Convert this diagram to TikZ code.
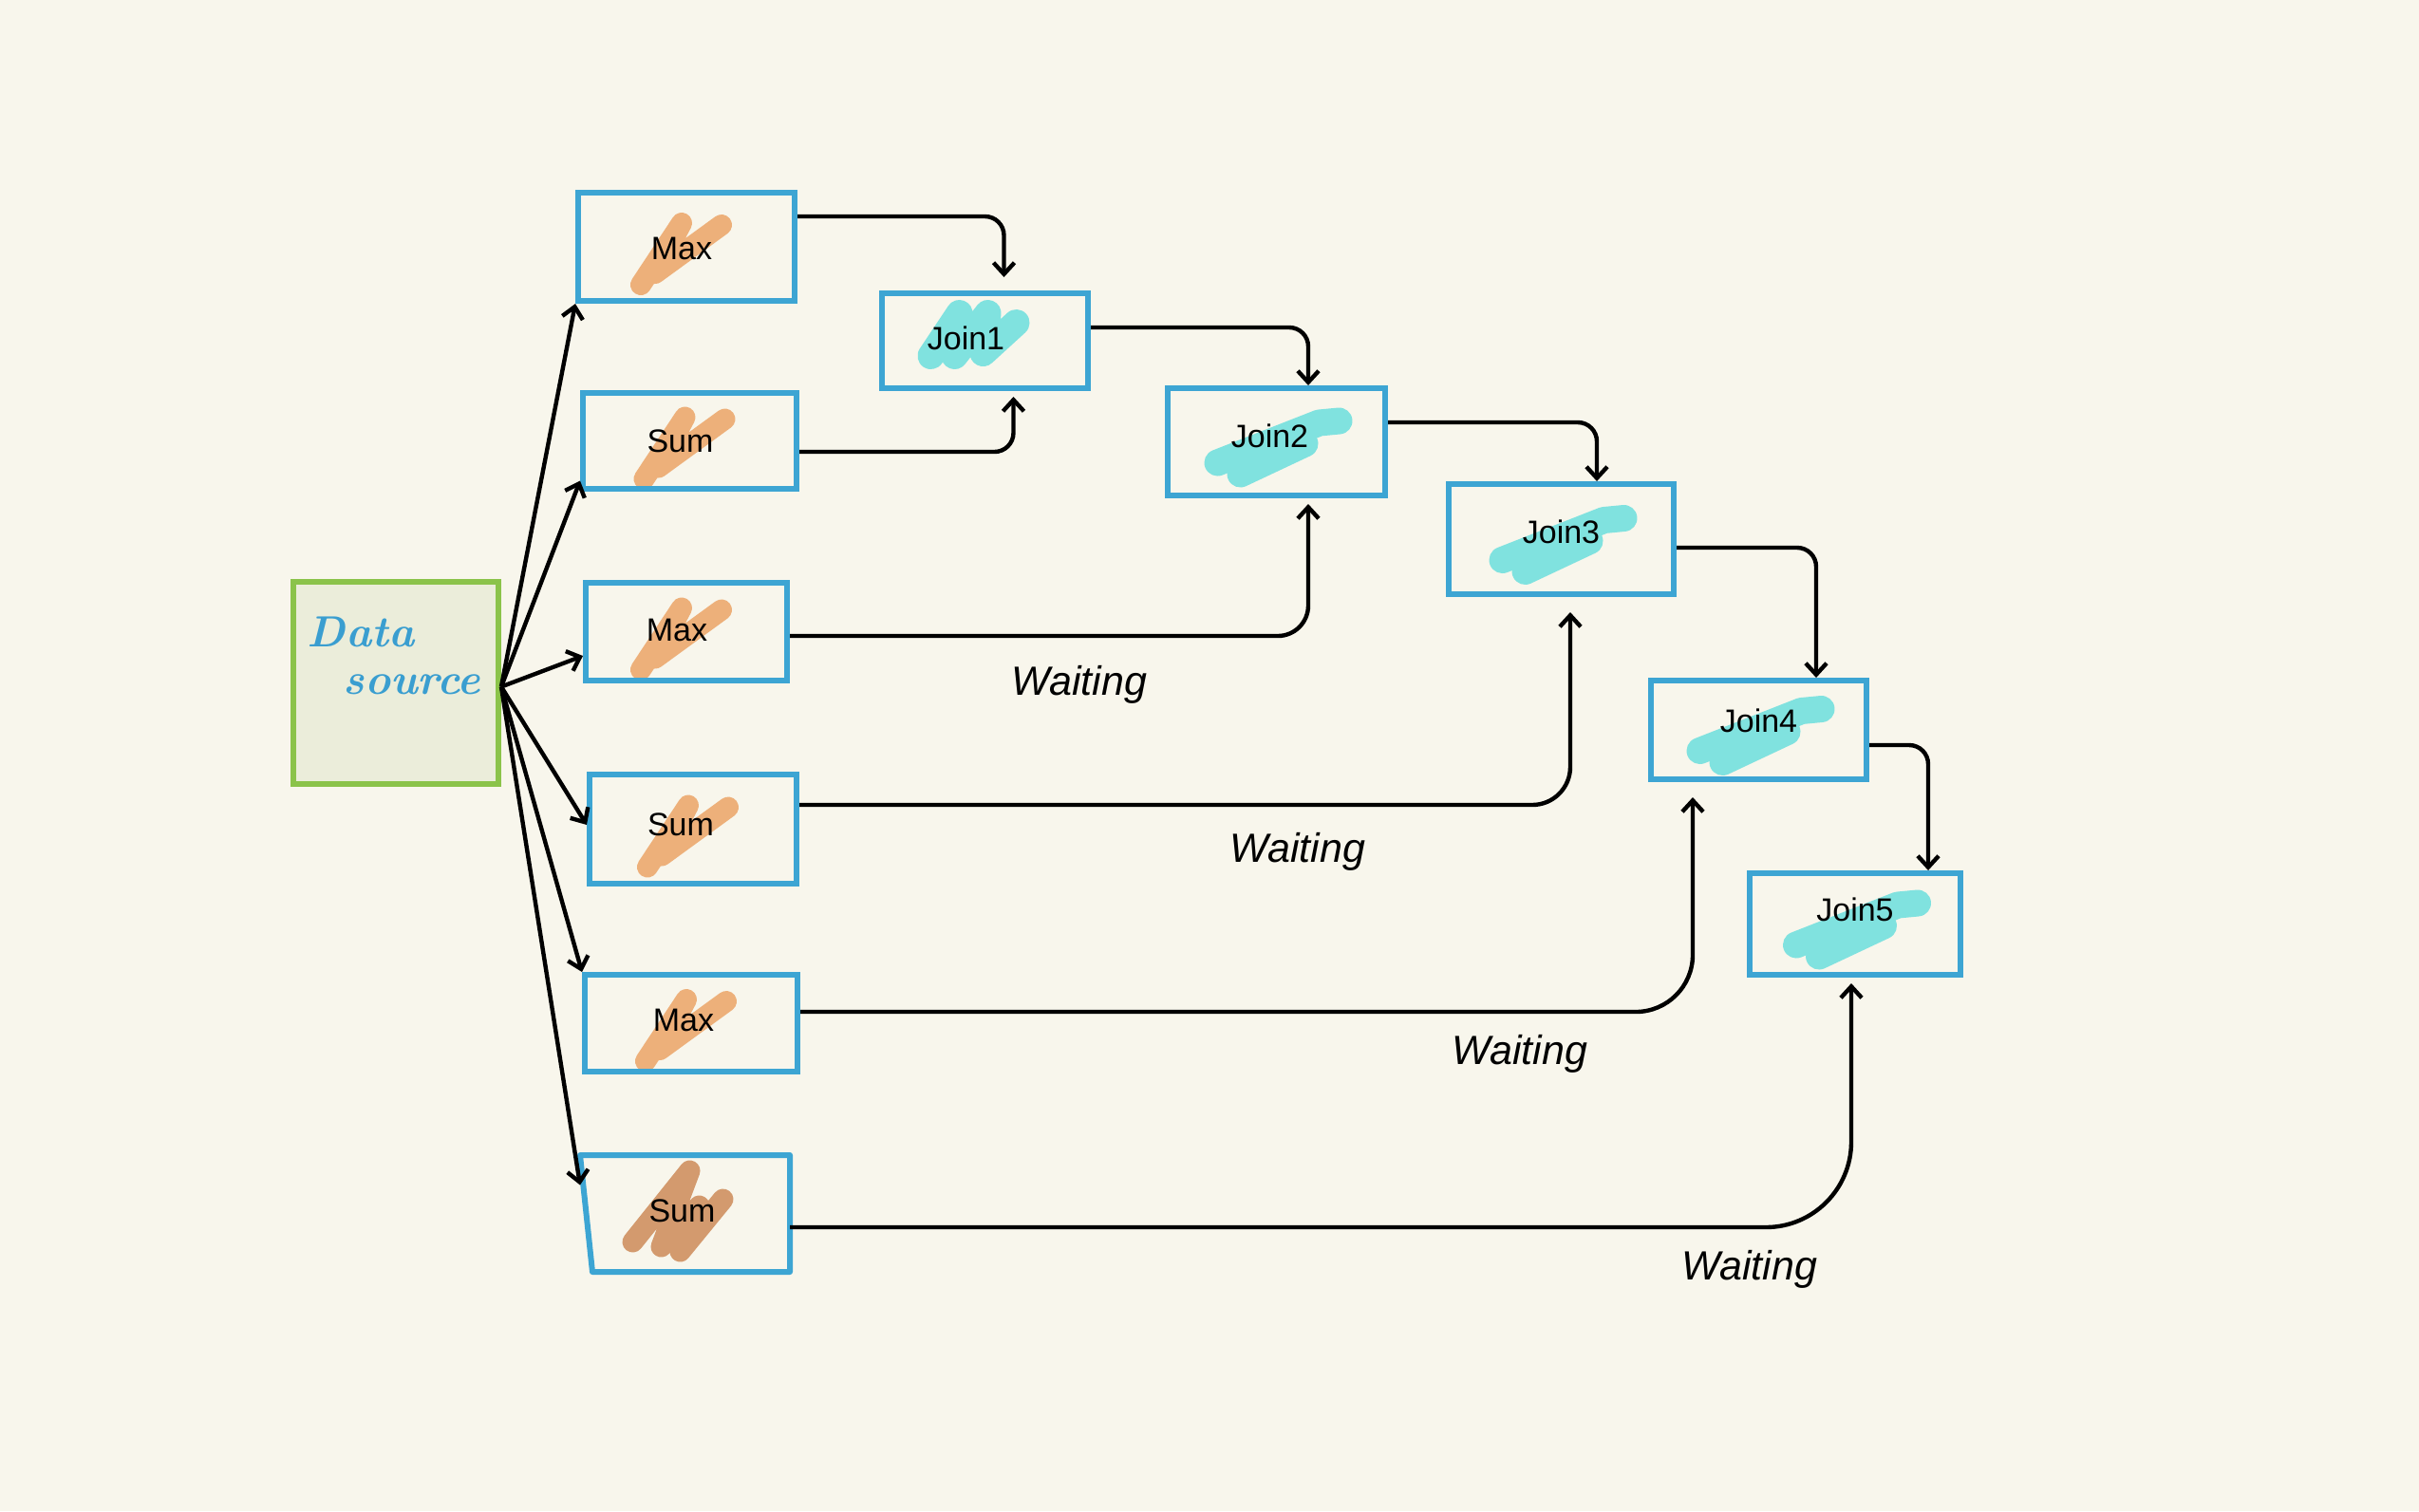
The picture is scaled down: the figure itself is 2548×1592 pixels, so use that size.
\documentclass[tikz,border=0pt]{standalone}
\usepackage{fontspec}
\setmainfont{Liberation Sans}
\newfontfamily\handfont{Latin Modern Roman}
\usetikzlibrary{arrows.meta}
\definecolor{bgcol}{HTML}{F8F6EC}
\definecolor{boxblue}{HTML}{3DA5D3}
\definecolor{dsgreen}{HTML}{8BC34A}
\definecolor{dsfill}{HTML}{EBEDDA}
\definecolor{orng}{HTML}{EDB07A}
\definecolor{brwn}{HTML}{D39A6E}
\definecolor{cyn}{HTML}{80E2DF}
\definecolor{handblue}{HTML}{3A9ED0}
\pgfdeclarelayer{background}
\pgfsetlayers{background,main}
\tikzset{
  opbox/.style={draw=boxblue, line width=3pt, inner sep=0pt},
  lbl/.style={font=\fontsize{17}{20}\selectfont, inner sep=0pt},
  conn/.style={draw=black, line width=2.2pt, -{Straight Barb[length=6pt,width=11pt]}},
  waitlbl/.style={font=\fontsize{21.5}{26}\selectfont\itshape, inner sep=0pt},
  scrib/.style={line width=11pt, line cap=round, line join=round},
  jscrib/.style={line width=14pt, line cap=round, line join=round, cyn},
  hand/.style={text=handblue, font=\fontsize{23}{28}\selectfont\handfont\itshape\bfseries, inner sep=0pt}
}
\newcommand\opscrib[2]{%
  \draw[scrib, #2] ([shift={(-48,40)}]#1.center) -- ([shift={(-5,-25)}]#1.center)
    -- ([shift={(-33,28)}]#1.center) -- ([shift={(37,-23)}]#1.center);}
\newcommand\joinscrib[1]{%
  \draw[jscrib] ([shift={(-62,22)}]#1.center) -- ([shift={(45,-20)}]#1.center) -- ([shift={(66,-22)}]#1.center);
  \draw[jscrib] ([shift={(-38,34)}]#1.center) -- ([shift={(30,2)}]#1.center);}
\begin{document}
\begin{tikzpicture}[x=0.5pt,y=-0.5pt]
\begin{pgfonlayer}{background}
\fill[bgcol] (0,0) rectangle (2548,1592);
\end{pgfonlayer}
\useasboundingbox (0,0) rectangle (2548,1592);

% data source
\node[draw=dsgreen, fill=dsfill, line width=3pt, minimum width=108pt, minimum height=106.5pt, inner sep=0pt] (ds) at (417,719.5) {};
\node[hand] (dst1) at (380,666) {Data};
\node[hand] (dst2) at (434,721) {source};

% operator boxes
\node[opbox, minimum width=114pt, minimum height=57pt] (max1) at (723,260) {};
\node[opbox, minimum width=112.5pt, minimum height=50.5pt] (sum1) at (726.5,464.5) {};
\node[opbox, minimum width=106pt, minimum height=51.5pt] (max2) at (723,665.5) {};
\node[opbox, minimum width=109pt, minimum height=57.5pt] (sum2) at (730,873.5) {};
\node[opbox, minimum width=112pt, minimum height=51pt] (max3) at (728,1078) {};
\node[opbox, draw=none, minimum width=107.5pt, minimum height=58.5pt] (sum3) at (721.5,1278.5) {};
\draw[boxblue, line width=3pt, line join=round] (sum3.north west) -- (sum3.north east) -- (sum3.south east) -- ([xshift=6.5pt]sum3.south west) -- cycle;

% join boxes
\node[opbox, minimum width=108.5pt, minimum height=50pt] (join1) at (1037.5,359) {};
\node[opbox, minimum width=114.5pt, minimum height=56.5pt] (join2) at (1344.5,465.5) {};
\node[opbox, minimum width=118.5pt, minimum height=58pt] (join3) at (1644.5,568) {};
\node[opbox, minimum width=113.5pt, minimum height=52pt] (join4) at (1852.5,769) {};
\node[opbox, minimum width=111pt, minimum height=53.5pt] (join5) at (1954,973.5) {};

% labels
\node[lbl] (max1t) at ([shift={(-5,2)}]max1.center) {Max};
\node[lbl] (sum1t) at ([shift={(-10,0)}]sum1.center) {Sum};
\node[lbl] (max2t) at ([shift={(-10,-2)}]max2.center) {Max};
\node[lbl] (sum2t) at ([shift={(-13,-5)}]sum2.center) {Sum};
\node[lbl] (max3t) at ([shift={(-8,-3)}]max3.center) {Max};
\node[lbl] (sum3t) at ([shift={(-3,-3)}]sum3.center) {Sum};
\node[lbl] (join1t) at ([shift={(-20,-3)}]join1.center) {Join1};
\node[lbl] (join2t) at ([shift={(-7,-6)}]join2.center) {Join2};
\node[lbl] (join3t) at ([shift={(0,-8)}]join3.center) {Join3};
\node[lbl] (join4t) at ([shift={(0,-10)}]join4.center) {Join4};
\node[lbl] (join5t) at ([shift={(0,-15)}]join5.center) {Join5};

% scribbles
\begin{pgfonlayer}{background}
\opscrib{max1}{orng}
\opscrib{sum1}{orng}
\opscrib{max2}{orng}
\opscrib{sum2}{orng}
\opscrib{max3}{orng}
\draw[scrib, brwn] ([shift={(-55,30)}]sum3.center) -- ([shift={(5,-45)}]sum3.center)
  -- ([shift={(-25,35)}]sum3.center) -- ([shift={(15,-8)}]sum3.center)
  -- ([shift={(-5,40)}]sum3.center) -- ([shift={(40,-15)}]sum3.center);
\draw[jscrib] ([shift={(-57,16)}]join1.center) -- ([shift={(-27,-29)}]join1.center)
  -- ([shift={(-32,16)}]join1.center) -- ([shift={(3,-29)}]join1.center)
  -- ([shift={(-2,13)}]join1.center) -- ([shift={(33,-19)}]join1.center);
\joinscrib{join2}
\joinscrib{join3}
\joinscrib{join4}
\joinscrib{join5}
\end{pgfonlayer}

% fan out from data source
\draw[conn] ([yshift=-2pt]ds.east) -- (max1.south west);
\draw[conn] ([yshift=-2pt]ds.east) -- ([yshift=-21pt]sum1.west);
\draw[conn] ([yshift=-2pt]ds.east) -- ([yshift=-12.75pt]max2.west);
\draw[conn] ([yshift=-2pt]ds.east) -- ([yshift=2.25pt]sum2.west);
\draw[conn] ([yshift=-2pt]ds.east) -- (max3.north west);
\draw[conn] ([yshift=-2pt]ds.east) -- ([yshift=15pt]sum3.west);

% connectors to joins
\draw[conn, rounded corners=10pt, shorten >=7pt] ([yshift=16pt]max1.east) -| ([xshift=10pt]join1.north);
\draw[conn, rounded corners=10pt, shorten >=3pt] ([yshift=-5.75pt]sum1.east) -| ([xshift=15pt]join1.south);
\draw[conn, rounded corners=10pt] ([yshift=7pt]join1.east) -| ([xshift=16.75pt]join2.north);
\draw[conn, rounded corners=16pt, shorten >=3pt] ([yshift=-2.25pt]max2.east) -| ([xshift=16.75pt]join2.south);
\draw[conn, rounded corners=10pt] ([yshift=10.25pt]join2.east) -| ([xshift=18.75pt]join3.north);
\draw[conn, rounded corners=20pt, shorten >=8pt] ([yshift=12.75pt]sum2.east) -| ([xshift=4.75pt]join3.south);
\draw[conn, rounded corners=10pt] ([yshift=-4.5pt]join3.east) -| ([xshift=30.25pt]join4.north);
\draw[conn, rounded corners=30pt, shorten >=8pt] ([yshift=6pt]max3.east) -| ([xshift=-34.75pt]join4.south);
\draw[conn, rounded corners=10pt] ([yshift=-8pt]join4.east) -| ([xshift=38.5pt]join5.north);
\draw[conn, rounded corners=45pt, shorten >=3pt] ([yshift=-7.25pt]sum3.east) -| ([xshift=-2pt]join5.south);

% waiting labels
\node[waitlbl] (w1) at (1137,721) {Waiting};
\node[waitlbl] (w2) at (1367,897) {Waiting};
\node[waitlbl] (w3) at (1601,1110) {Waiting};
\node[waitlbl] (w4) at (1843,1337) {Waiting};
\end{tikzpicture}
\end{document}
